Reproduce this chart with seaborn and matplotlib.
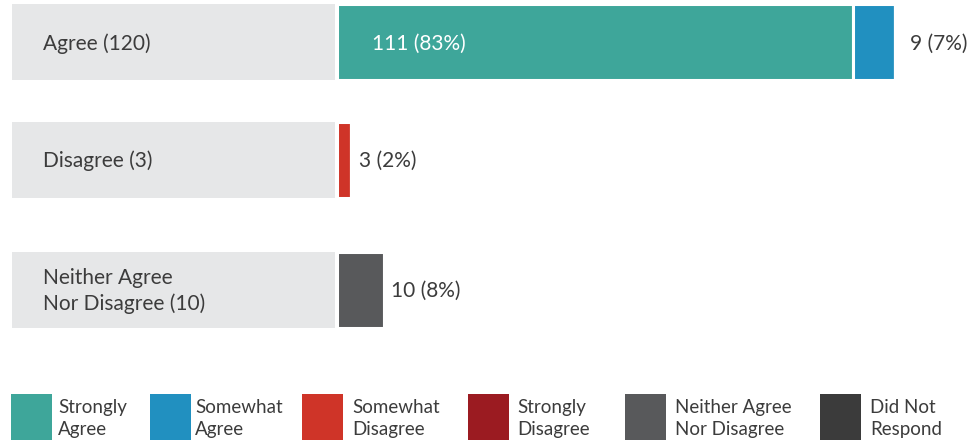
import matplotlib
matplotlib.use("Agg")
import matplotlib.pyplot as plt
import seaborn as sns
from matplotlib.patches import Rectangle

# ---------------- data ----------------
categories = ["Agree (120)", "Disagree (3)", "Neither Agree\nNor Disagree (10)"]
response_types = ["Strongly\nAgree", "Somewhat\nAgree", "Somewhat\nDisagree",
                  "Strongly\nDisagree", "Neither Agree\nNor Disagree", "Did Not\nRespond"]
strongly_agree = [111, 0, 0]
somewhat_agree = [9, 0, 0]
somewhat_disagree = [0, 3, 0]
strongly_disagree = [0, 0, 0]
neither = [0, 0, 10]
did_not_respond = [0, 0, 0]
total_respondents = 133

series = [strongly_agree, somewhat_agree, somewhat_disagree,
          strongly_disagree, neither, did_not_respond]
colors = ["#3ea69a", "#2190c0", "#cf3428", "#9b1b21", "#58595b", "#3b3b3b"]

# ---------------- style ----------------
sns.set_style("white")
plt.rcParams["font.family"] = ["Lato", "DejaVu Sans"]
text_color = "#3c3c3c"
box_color = "#e6e7e8"

W, H = 971, 444
fig = plt.figure(figsize=(W / 100, H / 100), dpi=100)
ax = fig.add_axes([0, 0, 1, 1])
ppu = 4.65          # pixels per respondent
x0 = 337            # pixel where bars start
ax.set_xlim(-x0 / ppu, (W - x0) / ppu)
ax.set_ylim(H, 0)
ax.axis("off")

row_y = [42.5, 160, 290]
row_h = 76

# grey category boxes
ax.barh(row_y, [(x0 - 2 - 12) / ppu] * 3, left=-(x0 - 12) / ppu, height=row_h,
        color=box_color, linewidth=0)
for y, cat in zip(row_y, categories):
    ax.text(-(x0 - 43) / ppu, y + 1, cat, ha="left", va="center", fontsize=15,
            color=text_color, linespacing=1.3)

# stacked segments
lefts = [0.0] * 3
for vals, col in zip(series, colors):
    ax.barh(row_y, vals, left=lefts, height=row_h, color=col,
            edgecolor="white", linewidth=2.2)
    lefts = [l + v for l, v in zip(lefts, vals)]

# value labels
for i, y in enumerate(row_y):
    vals = [s[i] for s in series]
    nz = [j for j, v in enumerate(vals) if v > 0]
    acc = 0.0
    for k, j in enumerate(nz):
        v = vals[j]
        lab = f"{v} ({round(100 * v / total_respondents)}%)"
        if v >= 40:
            ax.text(acc + 35 / ppu, y + 1, lab, ha="left", va="center",
                    fontsize=15, color="white")
        else:
            end = sum(vals)
            ax.annotate(lab, (end, y + 1), xytext=(5.5 if k == 0 else 11, 0),
                        textcoords="offset points", ha="left", va="center",
                        fontsize=15, color=text_color)
        acc += v

# legend
leg_sq_x = [11, 150, 302, 468, 625, 820]
leg_tx_x = [58, 195, 352, 517, 675, 870]
for sx, tx, lab, col in zip(leg_sq_x, leg_tx_x, response_types, colors):
    fig.add_artist(Rectangle((sx / W, 1 - 440 / H), 41 / W, 46 / H,
                             transform=fig.transFigure, color=col, lw=0))
    fig.text(tx / W, 1 - 418.5 / H, lab, ha="left", va="center", fontsize=13.5,
             color=text_color, linespacing=1.38)

fig.savefig("out.png", dpi=100)
